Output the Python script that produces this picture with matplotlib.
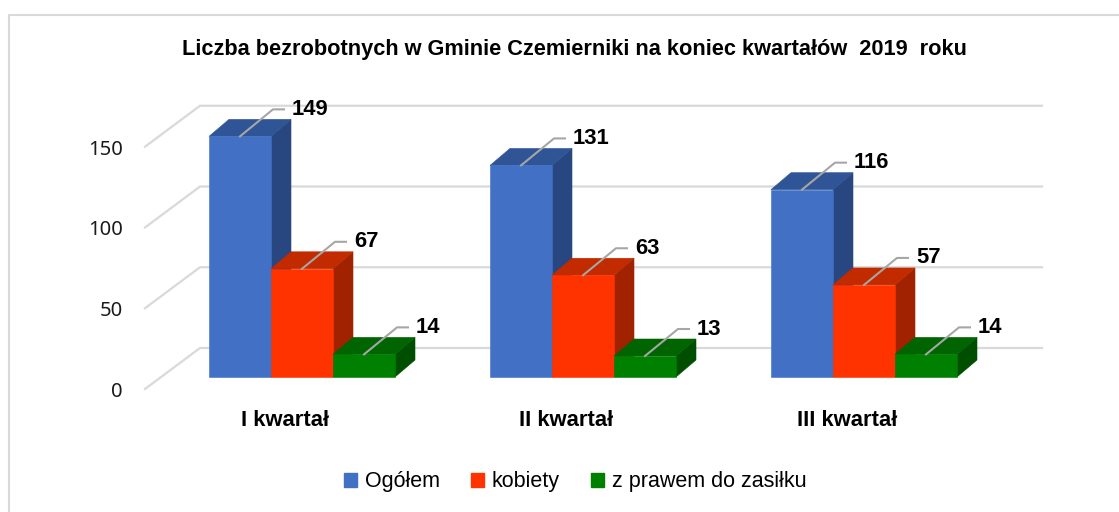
import matplotlib.pyplot as plt
from matplotlib.patches import Polygon, Patch
from matplotlib.lines import Line2D

plt.rcParams['font.family'] = ['Liberation Sans', 'DejaVu Sans']

title = 'Liczba bezrobotnych w Gminie Czemierniki na koniec kwartałów  2019  roku'
categories = ['I kwartał', 'II kwartał', 'III kwartał']
series = ['Ogółem', 'kobiety', 'z prawem do zasiłku']
ogolem = [149, 131, 116]
kobiety = [67, 63, 57]
zasilek = [14, 13, 14]
y_ticks = [0, 50, 100, 150]

front_colors = ['#4170C4', '#FF3300', '#008000']
side_colors = ['#28467F', '#A12200', '#004F00']
top_colors = ['#2F5597', '#C22A00', '#006400']
grid_color = '#D9D9D9'
leader_color = '#A6A6A6'

# pseudo-3d layout: one category step = 281 px, one unit of value = 1.615 px
W, H = 1119, 512
PX_X = 281.0
PX_Y = 1.615
ORIGIN_X, ORIGIN_Y = 303, 377          # pixel of (category 0 centre, value 0) on the bar front
BAR_W = 62 / PX_X
GROUP_LEFT = (209 - ORIGIN_X) / PX_X
DEPTH_X, DEPTH_Y = 20 / PX_X, 17 / PX_Y

WALL_FRONT_X = (145 - ORIGIN_X) / PX_X
WALL_BACK_X = (200 - ORIGIN_X) / PX_X
WALL_RIGHT_X = (1042 - ORIGIN_X) / PX_X
WALL_FRONT_DY = (ORIGIN_Y - 389) / PX_Y
WALL_BACK_DY = (ORIGIN_Y - 348) / PX_Y

fig = plt.figure(figsize=(W / 100, H / 100), dpi=100)
ax = fig.add_axes([0, 0, 1, 1])
ax.set_xlim(-ORIGIN_X / PX_X, (W - ORIGIN_X) / PX_X)
ax.set_ylim((ORIGIN_Y - H) / PX_Y, ORIGIN_Y / PX_Y)
ax.axis('off')

# outer frame (open on the right and bottom)
fig.add_artist(Line2D([9 / W, 9 / W, 1], [0, 1 - 15 / H, 1 - 15 / H],
                      color=grid_color, lw=1.5))

# gridlines on the side and back wall
for t in y_ticks:
    ax.plot([WALL_FRONT_X, WALL_BACK_X, WALL_RIGHT_X],
            [t + WALL_FRONT_DY, t + WALL_BACK_DY, t + WALL_BACK_DY],
            color=grid_color, lw=1.6, zorder=1)
    ax.text((123 - ORIGIN_X) / PX_X, t + WALL_FRONT_DY - 1.8, str(t),
            ha='right', va='center', fontsize=14.5, family='Noto Sans',
            color='#1a1a1a')

# bars
values = [ogolem, kobiety, zasilek]
for i in range(len(categories)):
    for j, vals in enumerate(values):
        v = vals[i]
        x0 = i + GROUP_LEFT + j * BAR_W
        x1 = x0 + BAR_W
        faces = [
            ([(x1, 0), (x1 + DEPTH_X, DEPTH_Y), (x1 + DEPTH_X, v + DEPTH_Y), (x1, v)], side_colors[j]),
            ([(x0, v), (x1, v), (x1 + DEPTH_X, v + DEPTH_Y), (x0 + DEPTH_X, v + DEPTH_Y)], top_colors[j]),
            ([(x0, 0), (x1, 0), (x1, v), (x0, v)], front_colors[j]),
        ]
        for pts, c in faces:
            ax.add_patch(Polygon(pts, closed=True, facecolor=c, edgecolor=c,
                                 lw=0.4, zorder=2))

# data labels with leader lines
for i in range(len(categories)):
    for j, vals in enumerate(values):
        v = vals[i]
        xc = i + GROUP_LEFT + (j + 0.5) * BAR_W
        xa = xc + 33 / PX_X
        ya = v + 27 / PX_Y
        xb = xa + 11 / PX_X
        ax.plot([xc, xa, xb], [v, ya, ya], color=leader_color, lw=1.5, zorder=3)
        ax.text(xb + 8 / PX_X, ya, str(v), ha='left', va='center',
                fontsize=15.8, fontweight='bold', color='black', zorder=4)

# category labels
for i, cat in enumerate(categories):
    ax.text(i - 0.065, (ORIGIN_Y - 420) / PX_Y, cat, ha='center', va='center',
            fontsize=15.8, fontweight='bold', color='black')

fig.text(574 / W, 1 - 50 / H, title, ha='center', va='center',
         fontsize=15.7, fontweight='bold', color='black')

handles = [Patch(facecolor=c, edgecolor=c) for c in front_colors]
fig.legend(handles, series, loc='center', bbox_to_anchor=(575 / W, 1 - 482 / H),
           ncol=3, frameon=False, fontsize=15.5, handlelength=0.62,
           handleheight=0.62, handletextpad=0.35, columnspacing=1.45)

fig.savefig('out.png', dpi=100)
